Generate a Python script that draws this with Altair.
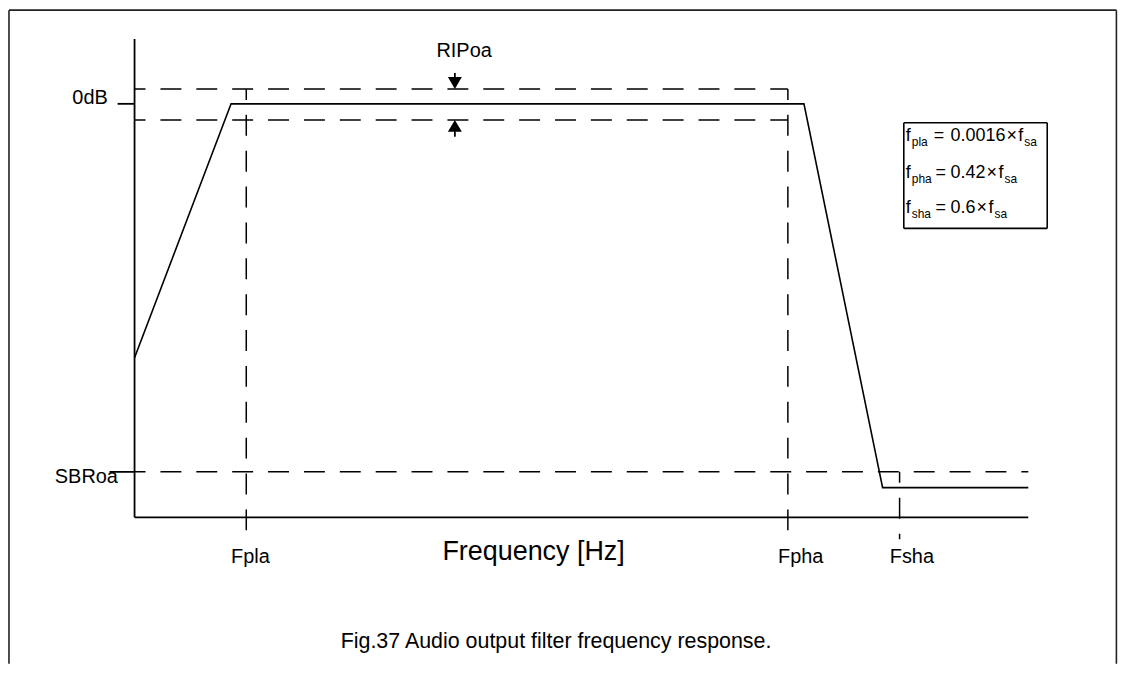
import altair as alt
import pandas as pd

FONT = "Liberation Sans"

# ---- chart values (x: % of axis length, y: dB-like units; 0dB at 0, axis floor at -100)
resp_x = [0.0, 10.8, 74.9, 83.7, 100.0]
resp_y = [-61.4, 0.0, 0.0, -92.8, -92.8]

ripple_hi = 3.6
ripple_lo = -3.9
sbr_level = -89.0
f_pla = 12.5
f_pha = 73.1
f_sha = 85.6
axis_floor = -100.0
axis_top = 15.7
axis_end = 100.0
guide_bottom = -105.3

tick_names = ["Fpla", "Fpha", "Fsha"]
tick_label_x = [10.8, 72.0, 84.5]

legend_names = ["pla", "pha", "sha"]
legend_factors = ["0.0016", "0.42", "0.6"]

# ---- view extents (data units)
XMIN, XMAX = -14.16, 110.15
YMIN, YMAX = -135.42, 22.89
FRAME_L, FRAME_R, FRAME_T = -14.05, 109.86, 22.65

xs = alt.Scale(domain=[XMIN, XMAX], nice=False, zero=False)
ys = alt.Scale(domain=[YMIN, YMAX], nice=False, zero=False)


def seg_layer(rows, dash=None, width=1.5, color="#000"):
    df = pd.DataFrame(rows, columns=["x", "y", "x2", "y2"])
    kw = dict(color=color, strokeWidth=width)
    if dash:
        kw["strokeDash"] = dash
        kw["strokeDashOffset"] = 10
    return alt.Chart(df).mark_rule(**kw).encode(
        x=alt.X("x:Q", scale=xs, axis=None),
        y=alt.Y("y:Q", scale=ys, axis=None),
        x2="x2:Q",
        y2="y2:Q",
    )


frame = seg_layer(
    [
        [FRAME_L, FRAME_T, FRAME_R, FRAME_T],
        [FRAME_L, FRAME_T, FRAME_L, YMIN],
        [FRAME_R, FRAME_T, FRAME_R, YMIN],
    ],
    width=1.6,
    color="#222",
)

arrow_x = 35.84
axes = seg_layer(
    [
        [0, axis_floor, 0, axis_top],
        [0, axis_floor, axis_end, axis_floor],
        [-1.9, 0, 0, 0],
        [-2.8, sbr_level, 0, sbr_level],
        [arrow_x, 7.47, arrow_x, ripple_hi + 1],
        [arrow_x, ripple_lo - 1, arrow_x, -7.95],
    ],
    width=1.8,
)

dashed = seg_layer(
    [
        [0, ripple_hi, f_pha, ripple_hi],
        [0, ripple_lo, f_pha, ripple_lo],
        [0, sbr_level, axis_end, sbr_level],
        [f_pla, ripple_hi, f_pla, guide_bottom],
        [f_pha, ripple_hi, f_pha, guide_bottom],
        [f_sha, sbr_level, f_sha, guide_bottom],
    ],
    dash=[21, 15],
    width=1.5,
)

resp = alt.Chart(pd.DataFrame({"x": resp_x, "y": resp_y, "o": range(len(resp_x))})).mark_line(
    color="#000", strokeWidth=1.6
).encode(
    x=alt.X("x:Q", scale=xs, axis=None),
    y=alt.Y("y:Q", scale=ys, axis=None),
    order="o:Q",
)

arrows_df = pd.DataFrame(
    {"x": [arrow_x, arrow_x], "y": [ripple_hi, ripple_lo], "dir": ["down", "up"]}
)
arrow_down = alt.Chart(arrows_df[arrows_df.dir == "down"]).mark_point(
    shape="M-1,-1.7L1,-1.7L0,0Z", filled=True, color="#000", size=196, opacity=1, strokeWidth=0
).encode(x=alt.X("x:Q", scale=xs, axis=None), y=alt.Y("y:Q", scale=ys, axis=None))
arrow_up = alt.Chart(arrows_df[arrows_df.dir == "up"]).mark_point(
    shape="M-1,1.7L1,1.7L0,0Z", filled=True, color="#000", size=196, opacity=1, strokeWidth=0
).encode(x=alt.X("x:Q", scale=xs, axis=None), y=alt.Y("y:Q", scale=ys, axis=None))


def text_layer(rows, size, align="left", baseline="alphabetic"):
    df = pd.DataFrame(rows, columns=["t", "x", "y"])
    return alt.Chart(df).mark_text(
        font=FONT, fontSize=size, align=align, baseline=baseline, color="#000"
    ).encode(
        x=alt.X("x:Q", scale=xs, axis=None),
        y=alt.Y("y:Q", scale=ys, axis=None),
        text="t:N",
    )


labels20 = text_layer(
    [["SBRoa", -8.92, -91.6], ["RIPoa", 33.78, 11.33]]
    + [[n, xx, -111.1] for n, xx in zip(tick_names, tick_label_x)],
    20,
)
zero_db = text_layer([["0dB", -3.0, 0.0]], 20, align="right")
xtitle = text_layer([["Frequency [Hz]", 34.45, -110.4]], 27)
caption = text_layer([["Fig.37  Audio output filter frequency response.", 47.16, -131.5]], 21.5, align="center")

# legend box
box = seg_layer(
    [
        [86.07, -4.58, 102.12, -4.58],
        [86.07, -30.12, 102.12, -30.12],
        [86.07, -4.58, 86.07, -30.12],
        [102.12, -4.58, 102.12, -30.12],
    ],
    width=1.6,
)
row_y = [-8.92, -17.83, -26.51]
eq_x = [89.41, 89.63, 89.63]
times_x = [97.55, 95.32, 94.20]
main_rows, sub_rows = [], []
for name, fac, yy, ex, tx in zip(legend_names, legend_factors, row_y, eq_x, times_x):
    main_rows += [["f", 86.29, yy], ["=", ex, yy], [fac, 91.30, yy], ["×", tx, yy], ["f", tx + 1.34, yy]]
    sub_rows += [[name, 86.96, yy - 1.2], ["sa", tx + 2.01, yy - 1.2]]
legend_main = text_layer(main_rows, 18)
legend_sub = text_layer(sub_rows, 12)

chart = alt.layer(
    frame, dashed, axes, resp, arrow_down, arrow_up,
    labels20, zero_db, xtitle, caption, box, legend_main, legend_sub,
).properties(
    width=1115, height=657, padding=0, autosize="none", background="white"
).configure_view(strokeWidth=0)

chart.save("out.html", embed_options={"renderer": "svg", "actions": False})
